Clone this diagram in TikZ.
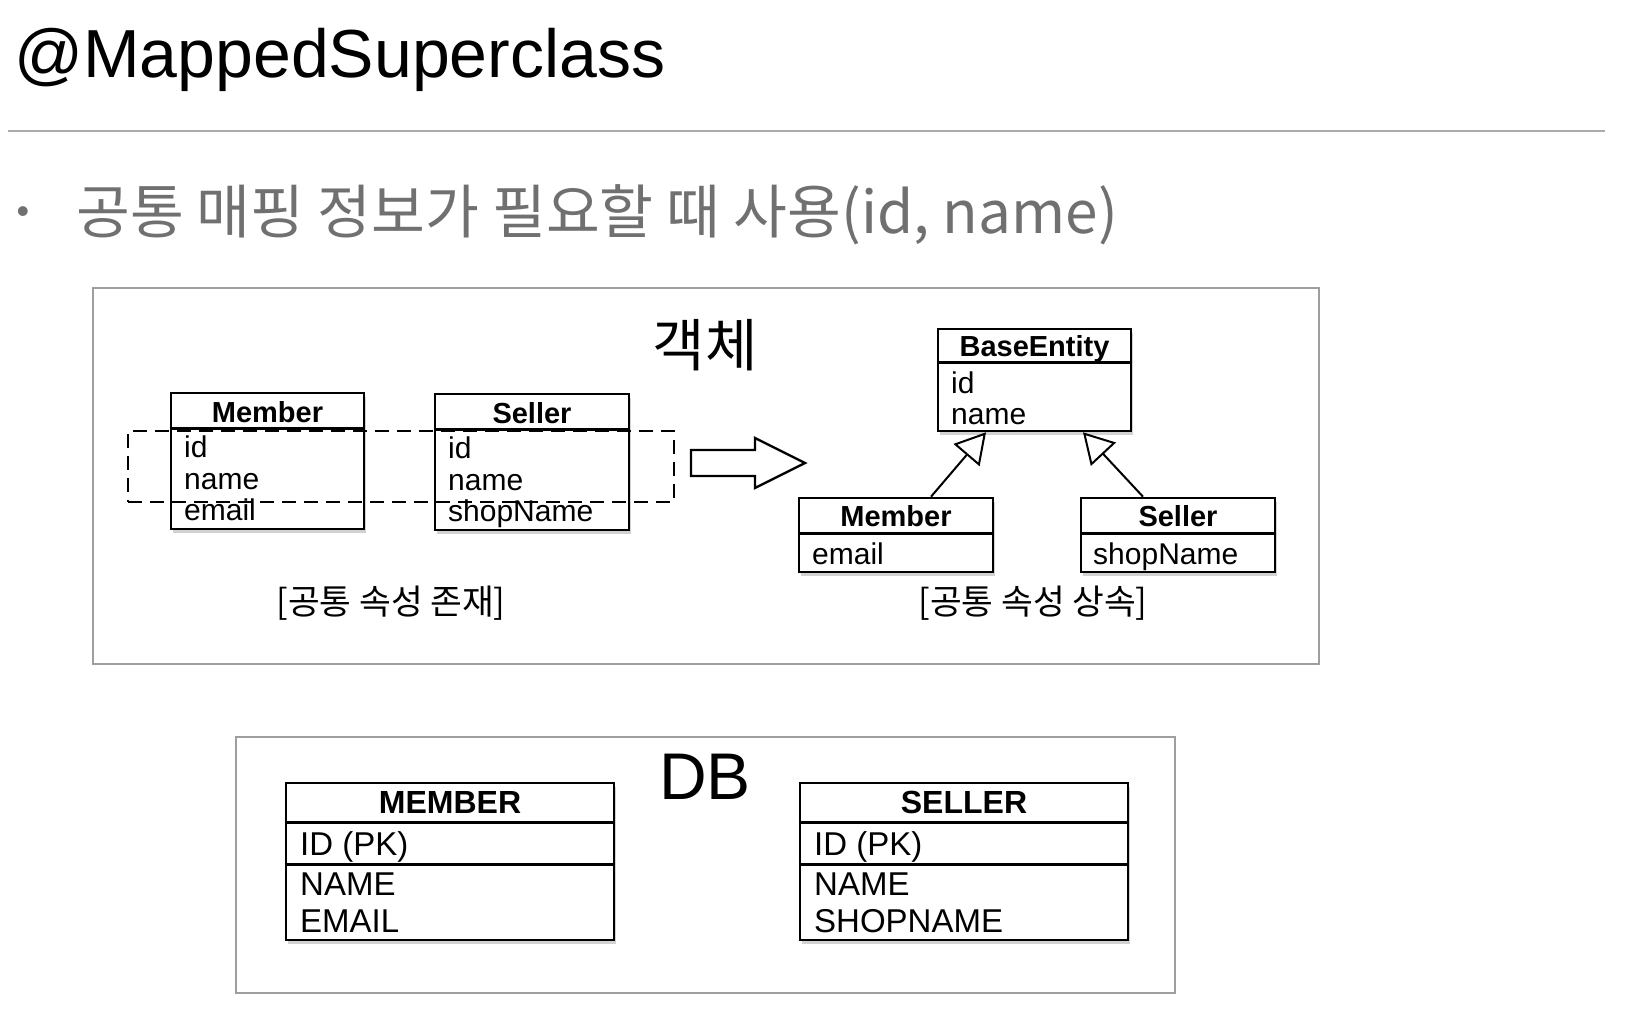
\documentclass[tikz,border=0pt]{standalone}
\usepackage{fontspec}
\setmainfont{Liberation Sans}
\newfontfamily\kr{Noto Sans CJK KR}
\usetikzlibrary{arrows.meta,shadows}
\definecolor{subgray}{RGB}{112,112,112}
\definecolor{framegray}{RGB}{158,158,158}
\definecolor{rulegray}{RGB}{170,170,170}
\newcommand{\fsz}[1]{\fontsize{#1}{#1}\selectfont}
\begin{document}
\begin{tikzpicture}[x=1pt,y=-1pt,
  frame/.style={draw=framegray, line width=1.5pt, inner sep=0pt},
  umlbox/.style={draw=black, line width=2.6pt, fill=white, inner sep=0pt,
    drop shadow={shadow xshift=1.5pt, shadow yshift=-4pt, opacity=0.35}},
  hdr/.style={font=\fsz{29}\bfseries, anchor=base, inner sep=0pt},
  attr/.style={font=\fsz{30}, anchor=base west, inner sep=0pt},
  dbhdr/.style={font=\fsz{32}\bfseries, anchor=base, inner sep=0pt},
  dbattr/.style={font=\fsz{33}, anchor=base west, inner sep=0pt},
  sepline/.style={line width=2.6pt},
  inherit/.style={line width=2pt, -{Triangle[open, length=30pt, width=34pt]}}
]
\useasboundingbox (0,0) rectangle (1632,1030);
\fill[white] (0,0) rectangle (1632,1030);

% title
\node[anchor=base west, inner sep=0pt, font=\fsz{68}] (title) at (14,78) {@MappedSuperclass};
\draw[rulegray, line width=2pt] (8,131) -- (1605,131);
\node[font=\fsz{36}, text=subgray, inner sep=0pt] (bul) at (23,215) {•};
\node[anchor=base west, inner sep=0pt, font=\kr\fsz{58.5}, text=subgray] (sub) at (76,233) {공통 매핑 정보가 필요할 때 사용(id, name)};

% frames
\node[frame, minimum width=1226pt, minimum height=376pt] (objframe) at (706,476) {};
\node[frame, minimum width=939pt, minimum height=256pt] (dbframe) at (705.5,865) {};

\node[anchor=base, inner sep=0pt, font=\kr\fsz{57}] (obj) at (705,366) {객체};
\node[anchor=base, inner sep=0pt, font=\fsz{66}] (db) at (705,799) {DB};

% left Member
\node[umlbox, minimum width=193pt, minimum height=136pt] (mL) at (267.5,461) {};
\draw[sepline] ([yshift=-37pt]mL.north west) -- ([yshift=-37pt]mL.north east);
\node[hdr] (mLh) at (267.5,422) {Member};
\node[attr] (mL1) at (184,457) {id};
\node[attr] (mL2) at (184,489) {name};
\node[attr] (mL3) at (184,520) {email};

% left Seller
\node[umlbox, minimum width=194pt, minimum height=136pt] (sL) at (532,462) {};
\draw[sepline] ([yshift=-37pt]sL.north west) -- ([yshift=-37pt]sL.north east);
\node[hdr] (sLh) at (532,423) {Seller};
\node[attr] (sL1) at (448,458) {id};
\node[attr] (sL2) at (448,490) {name};
\node[attr] (sL3) at (448,521) {shopName};

% dashed common region
\node[draw, line width=2pt, dash pattern=on 14pt off 8pt, inner sep=0pt,
  minimum width=546pt, minimum height=71pt] (common) at (401,466.5) {};

% block arrow
\draw[line width=2.4pt, fill=white] (691,450) -- (755,450) -- (755,438) -- (805,463)
  -- (755,488) -- (755,476) -- (691,476) -- cycle;

% BaseEntity
\node[umlbox, minimum width=193pt, minimum height=102pt] (be) at (1034.5,380) {};
\draw[sepline] ([yshift=-35pt]be.north west) -- ([yshift=-35pt]be.north east);
\node[hdr] (beh) at (1034.5,356) {BaseEntity};
\node[attr] (be1) at (951,393) {id};
\node[attr] (be2) at (951,424) {name};

% right Member
\node[umlbox, minimum width=194pt, minimum height=74pt] (mR) at (896,535) {};
\draw[sepline] ([yshift=-37pt]mR.north west) -- ([yshift=-37pt]mR.north east);
\node[hdr] (mRh) at (896,526) {Member};
\node[attr] (mR1) at (812,564) {email};

% right Seller
\node[umlbox, minimum width=194pt, minimum height=74pt] (sR) at (1178,535) {};
\draw[sepline] ([yshift=-37pt]sR.north west) -- ([yshift=-37pt]sR.north east);
\node[hdr] (sRh) at (1178,526) {Seller};
\node[attr] (sR1) at (1093,564) {shopName};

\draw[inherit] ([xshift=35pt]mR.north) -- ([xshift=-48.5pt]be.south);
\draw[inherit] ([xshift=-35pt]sR.north) -- ([xshift=48.5pt]be.south);

\node[anchor=base, inner sep=0pt, font=\kr\fsz{34.5}] (lab1) at (391,614) {[공통 속성 존재]};
\node[anchor=base, inner sep=0pt, font=\kr\fsz{34.5}] (lab2) at (1033,614) {[공통 속성 상속]};

% DB tables
\node[umlbox, minimum width=328pt, minimum height=157pt] (tM) at (450,861.5) {};
\draw[sepline] ([yshift=-41pt]tM.north west) -- ([yshift=-41pt]tM.north east);
\draw[sepline] ([yshift=-83pt]tM.north west) -- ([yshift=-83pt]tM.north east);
\node[dbhdr] (tMh) at (450,813) {MEMBER};
\node[dbattr] (tM1) at (300,855) {ID (PK)};
\node[dbattr] (tM2) at (300,895) {NAME};
\node[dbattr] (tM3) at (300,932) {EMAIL};

\node[umlbox, minimum width=328pt, minimum height=157pt] (tS) at (964,861.5) {};
\draw[sepline] ([yshift=-41pt]tS.north west) -- ([yshift=-41pt]tS.north east);
\draw[sepline] ([yshift=-83pt]tS.north west) -- ([yshift=-83pt]tS.north east);
\node[dbhdr] (tSh) at (964,813) {SELLER};
\node[dbattr] (tS1) at (814,855) {ID (PK)};
\node[dbattr] (tS2) at (814,895) {NAME};
\node[dbattr] (tS3) at (814,932) {SHOPNAME};
\end{tikzpicture}
\end{document}
